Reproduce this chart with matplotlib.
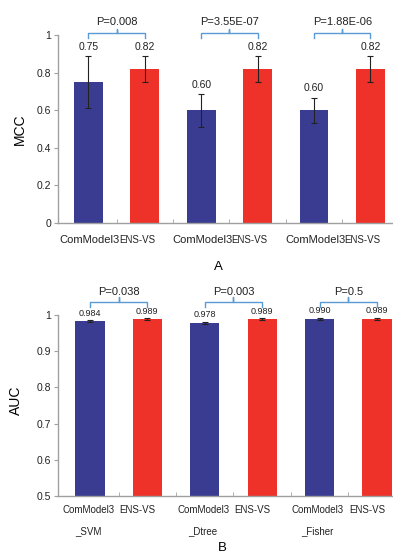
import matplotlib
matplotlib.use('Agg')
import matplotlib.pyplot as plt
import numpy as np

plt.rcParams['font.family'] = ['Liberation Sans', 'DejaVu Sans']

# Data (A: MCC, B: AUC)
labels_a = ['ComModel3', 'ENS-VS', 'ComModel3', 'ENS-VS', 'ComModel3', 'ENS-VS']
mcc = [0.75, 0.82, 0.60, 0.82, 0.60, 0.82]
mcc_err = [0.137, 0.07, 0.087, 0.07, 0.067, 0.07]
mcc_text = ['0.75', '0.82', '0.60', '0.82', '0.60', '0.82']
mcc_p = ['P=0.008', 'P=3.55E-07', 'P=1.88E-06']

labels_b = ['ComModel3', 'ENS-VS', 'ComModel3', 'ENS-VS', 'ComModel3', 'ENS-VS']
labels_b2 = ['_SVM', '', '_Dtree', '', '_Fisher', '']
auc = [0.984, 0.989, 0.978, 0.989, 0.990, 0.989]
auc_err = [0.003, 0.003, 0.004, 0.003, 0.003, 0.004]
auc_text = ['0.984', '0.989', '0.978', '0.989', '0.990', '0.989']
auc_p = ['P=0.038', 'P=0.003', 'P=0.5']

BLUE = '#3a3c92'
RED = '#ee3129'
BRACKET = '#5b9bd5'
AXIS = '#a0a0a0'
PX = 0.72  # pixels -> points at dpi 100

fig = plt.figure(figsize=(3.93, 5.56), dpi=100)
ax1 = fig.add_axes([58 / 393, 1 - 223 / 556, 335 / 393, 188 / 556])
ax2 = fig.add_axes([58 / 393, 1 - 496 / 556, 335 / 393, 181 / 556])


def draw_panel(ax, vals, errs, texts, pvals, ylim, yticks, ylabel, bracket,
               vfs, text_off, xlim):
    x = np.arange(len(vals))
    colors = [BLUE, RED] * 3
    ax.bar(x, vals, width=0.51, color=colors, zorder=2)
    ax.errorbar(x, vals, yerr=errs, fmt='none', ecolor='#222222',
                elinewidth=0.8, capsize=2, capthick=0.8, zorder=3)
    for xi, v, e, t in zip(x, vals, errs, texts):
        ax.annotate(t, (xi, v + e), xytext=(0, text_off), textcoords='offset points',
                    ha='center', va='bottom', fontsize=vfs, color='#222222')
    ye, yh, yp, yt = bracket
    for i, p in enumerate(pvals):
        x0, x1 = x[2 * i], x[2 * i + 1]
        xm = (x0 + x1) / 2
        ax.plot([x0, x0, xm, xm, xm, x1, x1], [ye, yh, yh, yp, yh, yh, ye],
                color=BRACKET, lw=1, clip_on=False)
        ax.text(xm, yt, p, ha='center', va='center', fontsize=8, color='#222222')
    ax.set_ylim(*ylim)
    ax.set_xlim(*xlim)
    ax.set_yticks(yticks)
    ax.set_yticklabels([('%g' % t) for t in yticks], fontsize=7.5, color='#222222')
    ax.set_xticks([])
    ax.set_xticks(x[:-1] + 0.5, minor=True)
    ax.tick_params(axis='x', which='minor', direction='in', length=3, color=AXIS)
    ax.tick_params(axis='y', direction='out', length=3, color=AXIS, pad=2)
    for s in ['top', 'right']:
        ax.spines[s].set_visible(False)
    for s in ['left', 'bottom']:
        ax.spines[s].set_color(AXIS)
        ax.spines[s].set_linewidth(1)
    ax.set_ylabel(ylabel, fontsize=10)


def xlabels(ax, labels, dy, shifts, sizes):
    # category labels, the pair squeezed together as in the Excel original
    for i, lab in enumerate(labels):
        if lab:
            ax.annotate(lab, (i, 0), xycoords=('data', 'axes fraction'),
                        xytext=(shifts[i % 2] * PX, -dy * PX),
                        textcoords='offset points', ha='center', va='center',
                        fontsize=sizes[i % 2], color='#222222')


draw_panel(ax1, mcc, mcc_err, mcc_text, mcc_p, (0, 1),
           [0, 0.2, 0.4, 0.6, 0.8, 1], 'MCC', (0.985, 1.01, 1.03, 1.067),
           7.5, 3, (-0.54, 5.40))
draw_panel(ax2, auc, auc_err, auc_text, auc_p, (0.5, 1),
           [0.5, 0.6, 0.7, 0.8, 0.9, 1], 'AUC', (1.023, 1.035, 1.049, 1.064),
           6.5, 1.5, (-0.557, 5.28))
xlabels(ax1, labels_a, 17, (1.5, -8), (8, 7))
xlabels(ax2, labels_b, 14, (-1.5, -10), (7, 7))
xlabels(ax2, labels_b2, 35, (-2, 0), (7, 7))
ax1.yaxis.set_label_coords(-0.0925, 0.5)
ax2.yaxis.set_label_coords(-0.104, 0.53)

fig.text(218 / 393, 1 - 267 / 556, 'A', ha='center', va='center', fontsize=9.5)
fig.text(222 / 393, 1 - 548 / 556, 'B', ha='center', va='center', fontsize=9.5)

fig.savefig('out.png', dpi=100)
